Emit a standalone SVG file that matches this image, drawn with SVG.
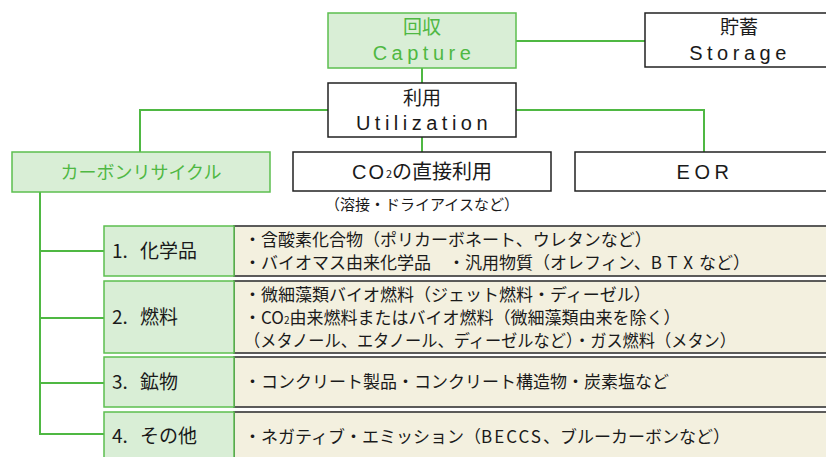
<svg xmlns="http://www.w3.org/2000/svg" width="826" height="457" viewBox="0 0 826 457">
<style>
.gbox{fill:#d9eed6;stroke:#5cbf4f;stroke-width:1.5}
.wbox{fill:#ffffff;stroke:#222;stroke-width:1.5}
.cell{fill:#f3f0df;stroke:#4a4a4a;stroke-width:1.8}
.lcell{fill:#d9eed6;stroke:#5cbf4f;stroke-width:1.5}
.con{fill:none;stroke:#4fb843;stroke-width:2}
.en{font-family:"Liberation Sans","Noto Sans CJK JP",sans-serif;font-size:20px;letter-spacing:4.5px;text-anchor:middle}
.jp{font-family:"Noto Sans CJK JP",sans-serif;text-anchor:middle}
.gt{fill:#4fb843}
.dt{fill:#1a1a1a}
.lab{font-family:"Noto Sans CJK JP",sans-serif;font-size:19px;fill:#1a1a1a}
.txt{font-family:"Noto Sans CJK JP",sans-serif;font-size:17px;fill:#1a1a1a}
</style>
<g id="connectors">
<path class="con" d="M516,41 H645"/>
<path class="con" d="M422,68 V83"/>
<path class="con" d="M328,110 H140 V152"/>
<path class="con" d="M422,137 V152"/>
<path class="con" d="M516,110 H704 V152"/>
<path class="con" d="M40,192 V434 H104"/>
<path class="con" d="M40,251 H104"/>
<path class="con" d="M40,318 H104"/>
<path class="con" d="M40,383 H104"/>
</g>
<g id="capture">
<rect class="gbox" x="328" y="13" width="188" height="55"/>
<text class="jp gt" x="422" y="34" font-size="19">回収</text>
<text class="en gt" x="424" y="60">Capture</text>
</g>
<g id="storage">
<rect class="wbox" x="645" y="13" width="190" height="54"/>
<text class="jp dt" x="739" y="34" font-size="19">貯蓄</text>
<text class="en dt" x="740" y="60">Storage</text>
</g>
<g id="utilization">
<rect class="wbox" x="328" y="83" width="188" height="54"/>
<text class="jp dt" x="422" y="105" font-size="19">利用</text>
<text class="en dt" x="424" y="130">Utilization</text>
</g>
<g id="carbon-recycle">
<rect class="gbox" x="12" y="152" width="258" height="40"/>
<text class="jp gt" x="141" y="179" font-size="18">カーボンリサイクル</text>
</g>
<g id="co2-direct">
<rect class="wbox" x="293" y="152" width="258" height="39"/>
<text class="jp dt" x="422" y="179" font-size="20"><tspan font-family="Liberation Sans" letter-spacing="2">CO</tspan><tspan font-size="11" dy="-1">2</tspan><tspan dy="1">の直接利用</tspan></text>
<text class="jp dt" x="422" y="210" font-size="15">（溶接・ドライアイスなど）</text>
</g>
<g id="eor">
<rect class="wbox" x="575" y="152" width="260" height="39"/>
<text class="en dt" x="705" y="179" letter-spacing="2.5">EOR</text>
</g>
<g id="row1">
<rect class="cell" x="234" y="226" width="600" height="50"/>
<rect class="lcell" x="104" y="226" width="130" height="50"/>
<text class="lab" x="112" y="258">1.<tspan x="140">化学品</tspan></text>
<text class="txt" x="244" y="246">・含酸素化合物（ポリカーボネート、ウレタンなど）</text>
<text class="txt" x="244" y="269">・バイオマス由来化学品　・汎用物質（オレフィン、<tspan letter-spacing="6">BTX</tspan>など）</text>
</g>
<g id="row2">
<rect class="cell" x="234" y="281" width="600" height="72"/>
<rect class="lcell" x="104" y="281" width="130" height="72"/>
<text class="lab" x="112" y="324">2.<tspan x="140">燃料</tspan></text>
<text class="txt" x="244" y="301">・微細藻類バイオ燃料（ジェット燃料・ディーゼル）</text>
<text class="txt" x="244" y="324">・CO<tspan font-size="10">2</tspan>由来燃料またはバイオ燃料（微細藻類由来を除く）</text>
<text class="txt" x="244" y="347" textLength="492" lengthAdjust="spacingAndGlyphs">（メタノール、エタノール、ディーゼルなど）・ガス燃料（メタン）</text>
</g>
<g id="row3">
<rect class="cell" x="234" y="357" width="600" height="50"/>
<rect class="lcell" x="104" y="357" width="130" height="50"/>
<text class="lab" x="112" y="389">3.<tspan x="140">鉱物</tspan></text>
<text class="txt" x="244" y="388">・コンクリート製品・コンクリート構造物・炭素塩など</text>
</g>
<g id="row4">
<rect class="cell" x="234" y="412" width="600" height="60"/>
<rect class="lcell" x="104" y="412" width="130" height="60"/>
<text class="lab" x="112" y="443">4.<tspan x="140">その他</tspan></text>
<text class="txt" x="244" y="443">・ネガティブ・エミッション（<tspan letter-spacing="2">BECCS</tspan>、ブルーカーボンなど）</text>
</g>
</svg>
